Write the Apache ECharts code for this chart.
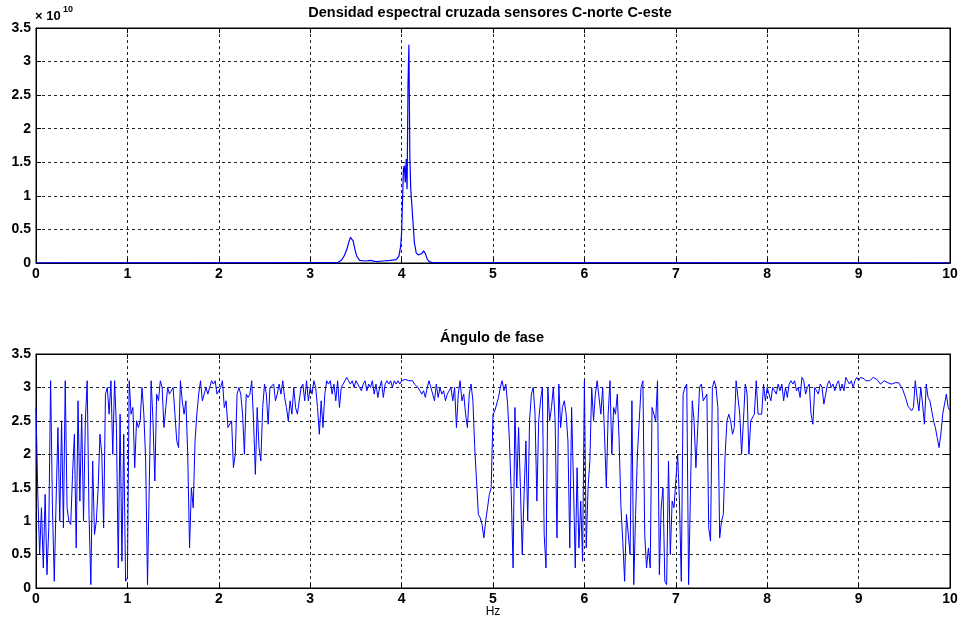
<!DOCTYPE html>
<html>
<head>
<meta charset="utf-8">
<script src="https://cdn.jsdelivr.net/npm/echarts@6/dist/echarts.min.js"></script>
<style>
  html, body { margin: 0; padding: 0; background: #ffffff; }
  #chart { width: 961px; height: 625px; }
</style>
</head>
<body>
<div id="chart"></div>
<script>
// Frequency axis ticks (Hz) and value axis ticks shared by both panels
const freqTicks = [0, 1, 2, 3, 4, 5, 6, 7, 8, 9, 10];
const valueTicks = [0, 0.5, 1, 1.5, 2, 2.5, 3, 3.5];

// Cross spectral density magnitude (units of 1e10), sampled where it is non-negligible
const csdHz = [0, 3.30, 3.34, 3.37, 3.40, 3.42, 3.44, 3.45, 3.47, 3.49, 3.51, 3.54, 3.60, 3.66, 3.72,
  3.80, 3.88, 3.94, 3.97, 3.99, 4.00, 4.02, 4.03, 4.04, 4.05, 4.06, 4.07, 4.08, 4.09, 4.10, 4.11,
  4.12, 4.14, 4.16, 4.18, 4.20, 4.22, 4.24, 4.26, 4.28, 4.30, 4.34, 5.00, 5.02, 5.05, 10];
const csdVal = [0.003, 0.005, 0.04, 0.1, 0.2, 0.3, 0.38, 0.4, 0.33, 0.2, 0.1, 0.04, 0.03, 0.04, 0.02,
  0.03, 0.04, 0.05, 0.1, 0.25, 0.45, 1.4, 1.45, 1.2, 1.55, 1.1, 2.65, 3.25, 1.6, 1.1, 0.9,
  0.7, 0.3, 0.15, 0.12, 0.1, 0.14, 0.18, 0.14, 0.06, 0.02, 0.005, 0.005, 0.015, 0.005, 0.003];

// Phase angle (rad), one value every 0.02 Hz, grouped per 1 Hz band
const FREQ_STEP = 0.02;
const phase0to1 = [2.7,1.4,0.5,1.2,0.3,1.4,0.2,0.9,3.1,1.2,0.1,1.3,2.4,1.0,2.5,0.9,3.1,1.2,1.0,0.95,
  1.7,2.3,0.6,2.8,1.3,2.6,1.0,2.5,3.1,1.1,0.05,1.9,0.8,1.0,1.5,2.3,2.0,0.9,2.9,3.0,
  2.6,3.1,2.0,3.1,2.4,0.3,2.6,0.4,2.3,0.1];
const phase1to2 = [0.15,3.1,2.6,2.7,1.8,2.5,2.4,2.5,3.0,2.6,1.9,0.05,1.6,3.1,2.5,1.6,2.9,2.8,3.1,3.0,
  2.4,2.7,3.0,2.9,2.9,3.0,2.6,2.2,2.1,3.1,2.8,2.6,2.8,2.0,0.6,1.5,1.2,2.2,2.6,2.9,
  3.1,2.8,2.8,3.0,2.9,3.0,3.1,3.05,3.1,2.9];
const phase2to3 = [2.9,3.0,3.1,2.7,2.8,2.4,2.4,2.5,1.8,2.0,2.9,3.0,2.9,2.6,2.0,2.9,2.85,2.9,3.1,2.5,
  1.7,2.7,2.1,1.9,2.7,3.05,2.9,2.45,3.0,3.0,3.05,2.8,2.9,3.05,2.9,3.1,2.85,2.7,2.5,2.8,
  2.6,3.0,2.7,2.6,2.6,3.0,3.05,2.8,3.1,2.8];
const phase3to4 = [3.0,2.9,3.1,3.0,2.7,2.3,2.8,2.4,2.9,3.1,3.05,3.1,2.9,3.05,2.8,3.1,2.7,3.0,3.0,3.1,
  3.15,3.1,3.05,3.1,3.0,3.1,3.05,3.0,2.95,3.05,3.1,2.95,3.05,3.0,3.1,2.9,3.05,2.85,3.0,3.1,
  2.85,3.05,3.1,3.05,3.1,3.0,3.1,3.05,3.1,3.05];
const phase4to5 = [3.1,3.1,3.12,3.1,3.1,3.12,3.1,3.05,3.05,3.0,2.95,2.9,2.95,2.85,3.0,3.1,3.0,2.9,2.8,3.05,
  2.85,3.0,2.9,2.95,2.8,2.9,2.95,3.0,2.8,3.0,2.4,2.9,3.1,2.8,2.9,2.6,2.4,2.9,3.05,2.8,
  2.1,1.6,1.1,1.05,0.95,0.75,1.0,1.2,1.4,1.5];
const phase5to6 = [2.6,2.65,2.65,2.85,3.0,3.1,2.95,3.05,2.75,2.2,1.4,0.3,2.7,1.5,2.4,1.5,0.5,1.4,2.2,1.0,
  2.5,2.9,3.0,2.6,1.3,2.5,2.8,3.0,0.8,0.3,3.0,2.5,2.7,3.0,2.5,0.75,3.05,2.4,2.7,2.8,
  2.6,2.2,0.6,2.7,1.6,0.3,1.8,0.6,1.3,0.4];
const phase6to7 = [3.1,0.6,1.5,1.9,3.0,2.5,2.9,3.1,3.1,2.6,3.0,2.3,1.5,2.6,3.1,2.0,2.7,2.6,2.9,2.2,
  1.2,0.7,0.1,1.1,1.1,0.5,2.8,0.05,1.1,2.0,2.5,3.0,3.1,0.8,0.3,0.6,0.3,2.7,2.6,2.5,
  3.1,0.2,1.2,1.5,0.1,0.05,1.9,0.5,1.3,1.2];
const phase7to8 = [1.6,2.0,1.3,0.1,2.9,3.0,3.05,0.05,1.4,2.8,2.5,1.8,2.4,3.0,3.05,2.8,2.8,2.9,0.9,0.7,
  3.0,3.1,3.0,2.7,0.75,1.0,1.1,2.0,2.5,2.6,2.5,2.3,2.4,3.1,3.1,2.6,2.0,2.5,3.05,2.9,
  2.0,2.5,2.5,2.6,3.1,2.6,2.6,2.6,3.05,2.8];
const phase8to9 = [3.0,2.9,2.8,3.0,2.95,2.9,3.05,2.95,3.05,2.8,3.0,2.85,3.05,3.1,3.05,3.1,2.95,3.0,2.85,3.15,
  3.1,2.9,3.0,3.05,2.6,2.45,3.0,2.95,2.9,3.05,3.0,2.75,2.9,3.05,3.1,3.0,3.05,2.95,3.05,3.1,
  2.95,3.05,2.95,3.15,3.1,3.05,3.1,3.0,3.1,3.15];
const phase9to10 = [3.1,3.15,3.15,3.13,3.1,3.1,3.1,3.12,3.15,3.15,3.12,3.1,3.05,3.07,3.1,3.1,3.07,3.05,3.05,3.07,
  3.07,3.05,3.07,3.02,2.98,2.9,2.82,2.72,2.7,2.65,2.7,3.1,2.85,2.65,3.0,2.75,2.45,3.05,2.85,2.8,
  2.8,2.5,2.4,2.25,2.1,2.3,2.6,2.75,2.9,2.7,2.65];

const phaseValues = [].concat(phase0to1, phase1to2, phase2to3, phase3to4, phase4to5,
  phase5to6, phase6to7, phase7to8, phase8to9, phase9to10);
const phaseData = phaseValues.map((v, i) => [+(i * FREQ_STEP).toFixed(2), v]);
const csdData = csdHz.map((f, i) => [f, csdVal[i]]);

const FONT = '"Liberation Sans", Arial, sans-serif';
const INK = '#000000';
const LINE_BLUE = '#0000ff';

const fMin = freqTicks[0], fMax = freqTicks[freqTicks.length - 1];
const vMin = valueTicks[0], vMax = valueTicks[valueTicks.length - 1];

const dotted = { color: INK, width: 1, type: [3, 3], opacity: 0.85 };

function freqAxis(gridIndex, position, withLabels) {
  return {
    type: 'value', gridIndex, position, min: fMin, max: fMax, interval: 1,
    axisLine: { show: true, onZero: false, lineStyle: { color: INK, width: 1 } },
    axisTick: { show: true, inside: true, length: 5, lineStyle: { color: INK } },
    axisLabel: { show: withLabels, color: INK, fontFamily: FONT, fontWeight: 'bold', fontSize: 14, margin: 4 },
    splitLine: { show: withLabels, lineStyle: dotted }
  };
}
function valueAxis(gridIndex, position, withLabels) {
  return {
    type: 'value', gridIndex, position, min: vMin, max: vMax, interval: 0.5,
    axisLine: { show: true, onZero: false, lineStyle: { color: INK, width: 1 } },
    axisTick: { show: true, inside: true, length: 5, lineStyle: { color: INK } },
    axisLabel: { show: withLabels, color: INK, fontFamily: FONT, fontWeight: 'bold', fontSize: 14, margin: 5 },
    splitLine: { show: withLabels, lineStyle: dotted }
  };
}

const chart = echarts.init(document.getElementById('chart'), null, { renderer: 'canvas' });
chart.setOption({
  animation: false,
  backgroundColor: '#ffffff',
  grid: [
    { left: 36, top: 28, width: 914, height: 235, show: true, borderColor: INK, borderWidth: 1, backgroundColor: '#fff' },
    { left: 36, top: 354, width: 914, height: 234, show: true, borderColor: INK, borderWidth: 1, backgroundColor: '#fff' }
  ],
  xAxis: [
    freqAxis(0, 'bottom', true),
    freqAxis(1, 'bottom', true),
    freqAxis(0, 'top', false),
    freqAxis(1, 'top', false)
  ],
  yAxis: [
    valueAxis(0, 'left', true),
    valueAxis(1, 'left', true),
    valueAxis(0, 'right', false),
    valueAxis(1, 'right', false)
  ],
  series: [
    {
      name: 'Densidad espectral cruzada', type: 'line', xAxisIndex: 0, yAxisIndex: 0,
      data: csdData, showSymbol: false, symbol: 'none', clip: true,
      lineStyle: { color: LINE_BLUE, width: 1.2 }
    },
    {
      name: 'Ángulo de fase', type: 'line', xAxisIndex: 1, yAxisIndex: 1,
      data: phaseData, showSymbol: false, symbol: 'none', clip: true,
      lineStyle: { color: LINE_BLUE, width: 1 }
    }
  ],
  graphic: [
    {
      type: 'text', x: 490, y: 13,
      style: { text: 'Densidad espectral cruzada sensores C-norte C-este', fill: INK,
        font: 'bold 14.5px "Liberation Sans", Arial, sans-serif', textAlign: 'center', textVerticalAlign: 'middle' }
    },
    {
      type: 'text', x: 492, y: 338,
      style: { text: 'Ángulo de fase', fill: INK,
        font: 'bold 14.5px "Liberation Sans", Arial, sans-serif', textAlign: 'center', textVerticalAlign: 'middle' }
    },
    {
      type: 'text', x: 493, y: 612,
      style: { text: 'Hz', fill: INK,
        font: '12px "Liberation Sans", Arial, sans-serif', textAlign: 'center', textVerticalAlign: 'middle' }
    },
    {
      type: 'text', x: 35, y: 16,
      style: { text: '× 10', fill: INK,
        font: 'bold 13px "Liberation Sans", Arial, sans-serif', textAlign: 'left', textVerticalAlign: 'middle' }
    },
    {
      type: 'text', x: 63, y: 10,
      style: { text: '10', fill: INK,
        font: 'bold 9px "Liberation Sans", Arial, sans-serif', textAlign: 'left', textVerticalAlign: 'middle' }
    }
  ]
});
</script>
</body>
</html>
